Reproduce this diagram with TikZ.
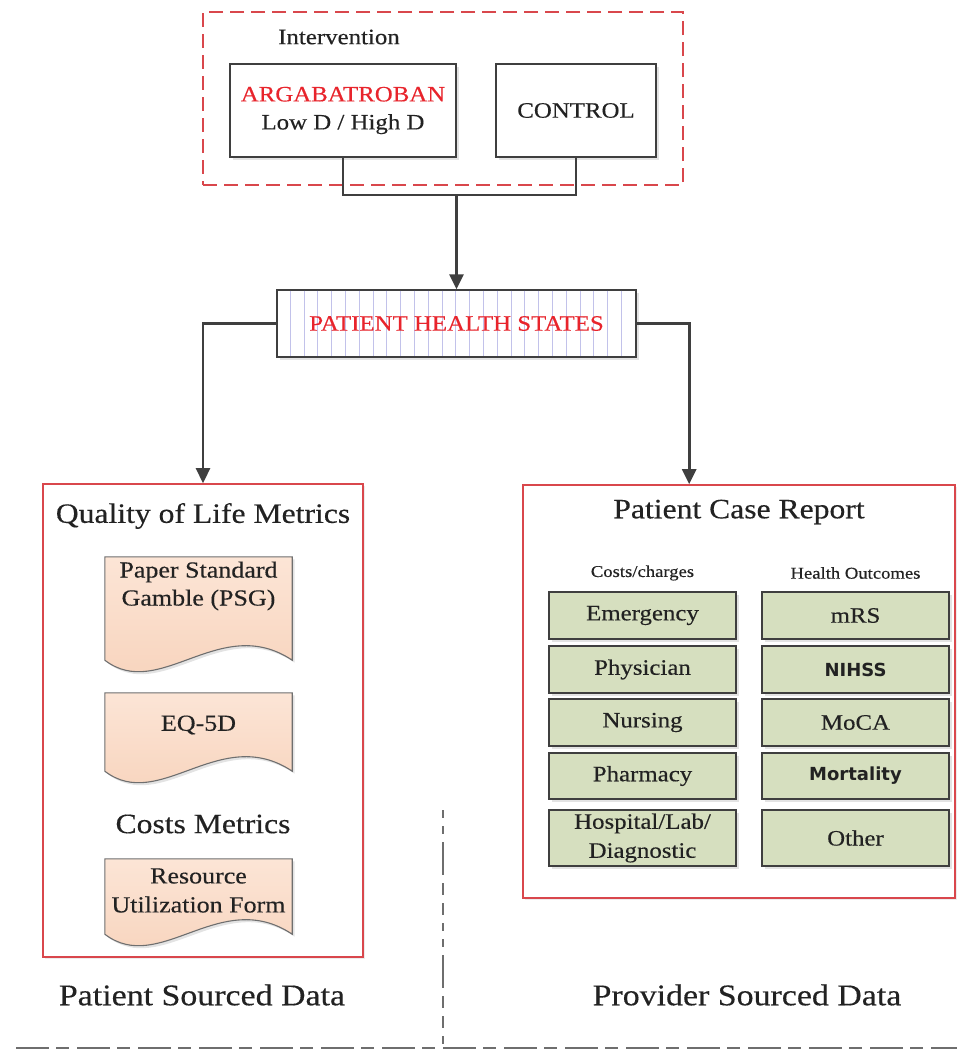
\documentclass[tikz,border=0pt]{standalone}
\usepackage{fontspec}
\setmainfont[FakeStretch=1.13,FakeBold=0.35]{Liberation Serif}
\newfontfamily\boldsans{DejaVu Sans}
\usetikzlibrary{shadows,arrows.meta,calc}

\definecolor{ink}{HTML}{222222}
\definecolor{redtxt}{HTML}{E8242C}
\definecolor{redline}{HTML}{D9474C}
\definecolor{boxline}{HTML}{3F3F3F}
\definecolor{greenfill}{HTML}{D6DFBF}
\definecolor{peachtop}{HTML}{FCE5D6}
\definecolor{peachbot}{HTML}{F7D1B9}
\definecolor{stripe}{HTML}{C2C2EA}
\definecolor{dashgrey}{HTML}{6E6E6E}

\newcommand\fsz[2]{\fontsize{#1}{#2}\selectfont}

\tikzset{
  softshadow/.style={drop shadow={opacity=0.22, shadow xshift=2.5pt, shadow yshift=-2.5pt}},
  plainbox/.style={draw=boxline, line width=1.3pt, fill=white, inner sep=0pt,
    text=ink, align=center, softshadow},
  panel/.style={draw=redline, line width=1.6pt, fill=white, inner sep=0pt,
    drop shadow={opacity=0.15, shadow xshift=2pt, shadow yshift=-2pt}},
  metric/.style={draw=boxline, line width=1.2pt, fill=greenfill, minimum width=187pt,
    inner sep=0pt, align=center, font=\fsz{22}{29}, text=ink, softshadow},
  txt/.style={text=ink, inner sep=0pt, align=center},
  docframe/.style={inner sep=0pt, minimum width=187pt},
  docfill/.style={draw=boxline!75, line width=1.1pt, top color=peachtop,
    bottom color=peachbot, softshadow},
  conn/.style={draw=boxline, line width=2.6pt},
  arrow/.style={conn, -{Triangle[length=15pt,width=14pt]}},
  sep/.style={draw=dashgrey, line width=1.5pt}
}

% document shape with a wavy lower edge, drawn around a named frame node
\newcommand\docshape[1]{%
  \path[docfill] (#1.north west) -- (#1.north east) -- (#1.south east)
    .. controls +(-72,-48) and +(55,42) .. (#1.south west) -- cycle;}

\begin{document}
\begin{tikzpicture}[x=1pt,y=-1pt]
\useasboundingbox (0,0) rectangle (957,1052);

% ---------- intervention group ----------
\node[draw=redline, line width=1.8pt, dash pattern=on 14pt off 7pt,
      minimum width=480pt, minimum height=173pt, inner sep=0pt] (group) at (443,98.5) {};
\node[txt, font=\fsz{22}{26}] (intv) at (339,37) {Intervention};
\node[plainbox, minimum width=226pt, minimum height=93pt, font=\fsz{22}{28}] (arga)
  at (343,110.5) {{\color{redtxt}ARGABATROBAN}\\Low D / High D};
\node[plainbox, minimum width=160pt, minimum height=93pt, font=\fsz{22}{28}] (ctrl)
  at (576,110.5) {CONTROL};

% ---------- patient health states ----------
\node[plainbox, minimum width=359pt, minimum height=67pt] (phs) at (456.5,323.5) {};
\foreach \i in {1,...,25}
  \draw[stripe, line width=0.9pt] ($(phs.north west)+(\i*13.8,1.2)$) -- ($(phs.south west)+(\i*13.8,-1.2)$);
\node[txt, text=redtxt, font=\fsz{22}{26}] (phslabel) at (phs) {PATIENT HEALTH STATES};

% ---------- patient sourced panel ----------
\node[panel, minimum width=320pt, minimum height=473pt] (qol) at (203,720.5) {};
\node[txt, font=\fsz{28}{32}] (qoltitle) at (203,516) {Quality of Life Metrics};

\node[docframe, minimum height=103pt] (psg) at (198.5,608.5) {};
\docshape{psg}
\node[txt, font=\fsz{23}{28}] (psgtext) at (198.5,586) {Paper Standard\\Gamble (PSG)};

\node[docframe, minimum height=78pt] (eq) at (198.5,732) {};
\docshape{eq}
\node[txt, font=\fsz{23}{28}] (eqtext) at (198.5,725) {EQ-5D};

\node[txt, font=\fsz{28}{32}] (costs) at (203,824) {Costs Metrics};

\node[docframe, minimum height=75pt] (ruf) at (198.5,896.5) {};
\docshape{ruf}
\node[txt, font=\fsz{23}{29}] (ruftext) at (198.5,890.5) {Resource\\Utilization Form};

% ---------- provider sourced panel ----------
\node[panel, minimum width=432pt, minimum height=413pt] (pcr) at (739,691.5) {};
\node[txt, font=\fsz{28}{32}] (pcrtitle) at (739,512) {Patient Case Report};
\node[txt, font=\fsz{16.5}{20}] (costhead) at (642.5,573) {Costs/charges};
\node[txt, font=\fsz{16.5}{20}] (outhead) at (855.5,573) {Health Outcomes};

\node[metric, minimum height=47pt] (emerg) at (642.5,615.5) {Emergency};
\node[metric, minimum height=47pt] (phys)  at (642.5,669.5) {Physician};
\node[metric, minimum height=47pt] (nurs)  at (642.5,722.5) {Nursing};
\node[metric, minimum height=46pt] (pharm) at (642.5,776) {Pharmacy};
\node[metric, minimum height=56pt] (hosp)  at (642.5,838) {Hospital/Lab/\\Diagnostic};

\node[metric, minimum height=47pt] (mrs)   at (855.5,615.5) {mRS};
\node[metric, minimum height=47pt, font=\boldsans\bfseries\fsz{18}{22}] (nihss) at (855.5,669.5) {NIHSS};
\node[metric, minimum height=47pt] (moca)  at (855.5,722.5) {MoCA};
\node[metric, minimum height=46pt, font=\boldsans\bfseries\fsz{18}{22}] (mort) at (855.5,776) {Mortality};
\node[metric, minimum height=56pt] (other) at (855.5,838) {Other};

% ---------- connectors ----------
\coordinate (join) at (456.5,195);
\draw[conn] (arga.south) |- (join);
\draw[conn] (ctrl.south) |- (join);
\draw[arrow] (join) -- (phs.north);
\draw[arrow] (phs.west) -| (qol.north);
\coordinate (pcrin) at ($(pcr.north west)+(167,0)$);
\draw[arrow] (phs.east) -| (pcrin);

% ---------- source labels and separators ----------
\node[txt, font=\fsz{30}{34}] (patsrc) at (202,995) {Patient Sourced Data};
\node[txt, font=\fsz{30}{34}] (provsrc) at (747,995) {Provider Sourced Data};

\coordinate (vtop) at (443,810);
\coordinate (vbot) at (443,1045);
\draw[sep, dash pattern=on 8pt off 8pt on 8pt off 8pt on 33pt off 8pt on 12pt off 8pt on 12pt off 8pt] (vtop) -- (vbot);
\coordinate (hleft) at (16,1048);
\coordinate (hright) at (957,1048);
\draw[sep, dash pattern=on 33pt off 7pt on 13pt off 8pt] (hleft) -- (hright);
\end{tikzpicture}
\end{document}
